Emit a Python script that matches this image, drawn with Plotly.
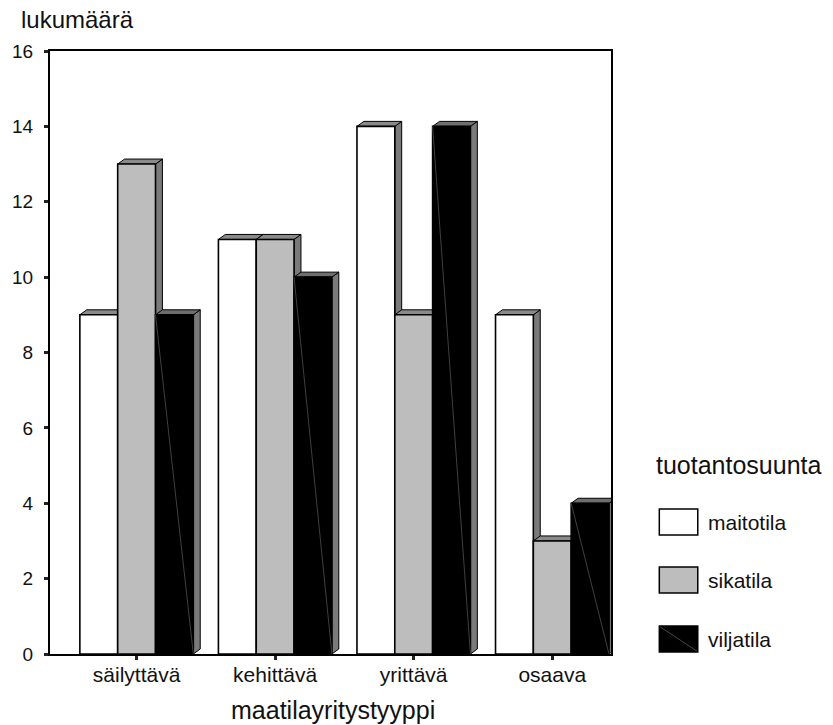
import plotly.graph_objects as go

# Counts of farm business types by production line
categories = ["säilyttävä", "kehittävä", "yrittävä", "osaava"]
series_names = ["maitotila", "sikatila", "viljatila"]
maitotila = [9, 11, 14, 9]
sikatila = [13, 11, 9, 3]
viljatila = [9, 10, 14, 4]
y_ticks = [0, 2, 4, 6, 8, 10, 12, 14, 16]

values = [maitotila, sikatila, viljatila]
front_colors = ["#FFFFFF", "#BDBDBD", "#000000"]
top_colors = ["#8A8A8A", "#8A8A8A", "#6E6E6E"]
side_colors = ["#7A7A7A", "#7A7A7A", "#7A7A7A"]

FONT = "Liberation Sans, Arial, Helvetica, sans-serif"
TEXT = "#111111"

# layout geometry (pixels)
W, H = 833, 725
L, R, T, B = 42, 222, 51, 71
x_range = [-0.625, 3.424]
y_range = [0, 16]
px_per_x = (W - L - R) / (x_range[1] - x_range[0])
px_per_y = (H - T - B) / (y_range[1] - y_range[0])

bar_w = 0.273                 # width of one bar in category units
depth_dx = 7 / px_per_x       # 3D depth offset
depth_dy = 5 / px_per_y

fig = go.Figure()


def poly(xs, ys, fill, line_w=1.2):
    fig.add_trace(go.Scatter(
        x=xs + [xs[0]], y=ys + [ys[0]], mode="lines", fill="toself",
        fillcolor=fill, line=dict(color="black", width=line_w),
        hoverinfo="skip", showlegend=False))


for i, cat in enumerate(categories):
    for j in range(len(series_names)):
        v = values[j][i]
        x0 = i + (j - 1) * bar_w - bar_w / 2
        x1 = x0 + bar_w
        # right side face
        poly([x1, x1 + depth_dx, x1 + depth_dx, x1],
             [0, depth_dy, v + depth_dy, v], side_colors[j], 1.0)
        # top face
        poly([x0, x0 + depth_dx, x1 + depth_dx, x1],
             [v, v + depth_dy, v + depth_dy, v], top_colors[j], 1.0)
        # front face
        fig.add_trace(go.Scatter(
            x=[x0, x1, x1, x0, x0], y=[0, 0, v, v, 0], mode="lines",
            fill="toself", fillcolor=front_colors[j],
            line=dict(color="black", width=1.6),
            name=series_names[j], hovertemplate=f"{cat}<br>{series_names[j]}: {v}<extra></extra>",
            showlegend=False))
        if j == 2:
            # diagonal hatch stroke on the black bars
            fig.add_trace(go.Scatter(
                x=[x0, x1], y=[v, 0], mode="lines",
                line=dict(color="#5A5A5A", width=0.7),
                hoverinfo="skip", showlegend=False))

fig.update_layout(
    width=W, height=H,
    margin=dict(l=L, r=R, t=T, b=B),
    paper_bgcolor="white", plot_bgcolor="white",
    font=dict(family=FONT, size=19, color=TEXT),
    xaxis=dict(
        range=x_range, tickmode="array", tickvals=list(range(len(categories))),
        ticktext=categories, showgrid=False, zeroline=False,
        showline=True, mirror=True, linecolor="black", linewidth=2,
        ticks="outside", ticklen=4, tickwidth=2.5, tickcolor="#222",
        ticklabelstandoff=-3, tickfont=dict(size=21)),
    yaxis=dict(
        range=y_range, tickmode="array", tickvals=y_ticks,
        showgrid=False, zeroline=False,
        showline=True, mirror=True, linecolor="black", linewidth=2,
        ticks="outside", ticklen=4, tickwidth=2.5, tickcolor="#222",
        ticklabelstandoff=7, tickfont=dict(size=19)),
    showlegend=False,
)


def px_x(p):
    return (p - L) / (W - L - R)


def px_y(p):
    return 1 - (p - T) / (H - T - B)


# axis titles
fig.add_annotation(text="lukumäärä", xref="paper", yref="paper",
                   x=px_x(11), y=px_y(20), xanchor="left", yanchor="middle",
                   showarrow=False, font=dict(size=24))
fig.add_annotation(text="maatilayritystyyppi", xref="paper", yref="paper",
                   x=px_x(329), y=px_y(710), xanchor="center", yanchor="middle",
                   showarrow=False, font=dict(size=25))

# legend drawn in pixel layout space
fig.add_annotation(text="tuotantosuunta", xref="paper", yref="paper",
                   x=px_x(655), y=px_y(465), xanchor="left", yanchor="middle",
                   showarrow=False, font=dict(size=25))

legend_rows = [(522, "#FFFFFF"), (580, "#BDBDBD"), (639, "#000000")]
for name, (cy, fill) in zip(series_names, legend_rows):
    fig.add_shape(type="rect", xref="paper", yref="paper",
                  x0=px_x(660), x1=px_x(699), y0=px_y(cy - 13), y1=px_y(cy + 13),
                  fillcolor=fill, line=dict(color="black", width=1.5))
    if fill == "#000000":
        fig.add_shape(type="line", xref="paper", yref="paper",
                      x0=px_x(661), y0=px_y(cy - 12), x1=px_x(698), y1=px_y(cy + 12),
                      line=dict(color="#5A5A5A", width=0.8))
    fig.add_annotation(text=name, xref="paper", yref="paper",
                       x=px_x(707), y=px_y(cy), xanchor="left", yanchor="middle",
                       showarrow=False, font=dict(size=21))

fig.write_html("out.html")
